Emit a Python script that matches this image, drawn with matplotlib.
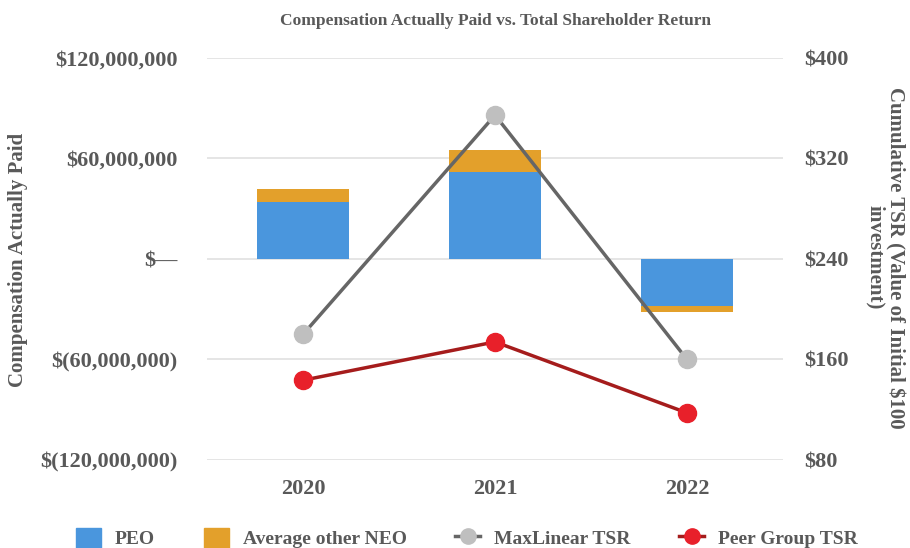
import numpy as np
import matplotlib.pyplot as plt
from matplotlib.ticker import FixedLocator, FuncFormatter
from matplotlib.lines import Line2D
from matplotlib.patches import Patch

# Data
years = ["2020", "2021", "2022"]
peo_cap = [34.2e6, 52.2e6, -28.2e6]
neo_cap = [7.8e6, 13.0e6, -3.3e6]
maxlinear_tsr = [180.0, 354.5, 160.0]
peer_tsr = [143.5, 174.0, 117.5]

left_ticks = [-120e6, -60e6, 0, 60e6, 120e6]
left_labels = ["$(120,000,000)", "$(60,000,000)", "$\u2014", "$60,000,000", "$120,000,000"]
right_ticks = [80, 160, 240, 320, 400]

txt = "#595959"
plt.rcParams["font.family"] = ["Liberation Serif", "DejaVu Serif"]
plt.rcParams["font.weight"] = "bold"
plt.rcParams["axes.titleweight"] = "bold"
plt.rcParams["axes.labelweight"] = "bold"

fig = plt.figure(figsize=(9.1, 5.48), dpi=100)
ax = fig.add_axes([0.2275, 0.1606, 0.633, 0.7336])
ax2 = ax.twinx()

x = np.arange(len(years))
w = 0.48
ax.bar(x, peo_cap, w, color="#4a96dd", zorder=2)
ax.bar(x, neo_cap, w, bottom=peo_cap, color="#e3a02b", zorder=2)

ax.set_ylim(-120e6, 120e6)
ax.set_xlim(-0.5, 2.5)
ax.yaxis.set_major_locator(FixedLocator(left_ticks))
ax.set_yticklabels(left_labels)
ax.grid(axis="y", color="#e0e0e0", linewidth=1.2, zorder=0)
ax.set_xticks(x)
ax.set_xticklabels(years)
ax.tick_params(length=0, labelsize=16, labelcolor=txt, pad=21)
ax.tick_params(axis="x", pad=14)
ax.set_axisbelow(True)

ax2.plot(x, maxlinear_tsr, color="#666666", lw=2.5, marker="o", ms=13,
         mfc="#bfbfbf", mec="#bfbfbf", zorder=3)
ax2.plot(x, peer_tsr, color="#a51c1c", lw=2.5, marker="o", ms=13,
         mfc="#e8202a", mec="#e8202a", zorder=3)
ax2.set_ylim(80, 400)
ax2.yaxis.set_major_locator(FixedLocator(right_ticks))
ax2.yaxis.set_major_formatter(FuncFormatter(lambda v, p: "$%d" % v))
ax2.tick_params(length=0, labelsize=16, labelcolor=txt, pad=15)

for a in (ax, ax2):
    for s in a.spines.values():
        s.set_visible(False)

fig.text(18 / 910, 0.525, "Compensation Actually Paid", fontsize=15, color=txt,
         rotation=90, ha="center", va="center")
fig.text(885 / 910, 0.53, "Cumulative TSR (Value of Initial $100\ninvestment)",
         fontsize=15, color=txt, rotation=270, ha="center", va="center",
         linespacing=1.0)
ax.set_title("Compensation Actually Paid vs. Total Shareholder Return",
             fontsize=12.5, color=txt, pad=24)

handles = [
    Patch(color="#4a96dd"),
    Patch(color="#e3a02b"),
    Line2D([], [], color="#666666", lw=2.5, marker="o", ms=11, mfc="#bfbfbf", mec="#bfbfbf"),
    Line2D([], [], color="#a51c1c", lw=2.5, marker="o", ms=11, mfc="#e8202a", mec="#e8202a"),
]
fig.legend(handles, ["PEO", "Average other NEO", "MaxLinear TSR", "Peer Group TSR"],
           loc="center", bbox_to_anchor=(0.513, 0.018), ncol=4, frameon=False,
           fontsize=14, labelcolor=txt, handlelength=1.3, handleheight=1.2,
           columnspacing=2.5, handletextpad=0.7)

fig.savefig("out.png", dpi=100)
